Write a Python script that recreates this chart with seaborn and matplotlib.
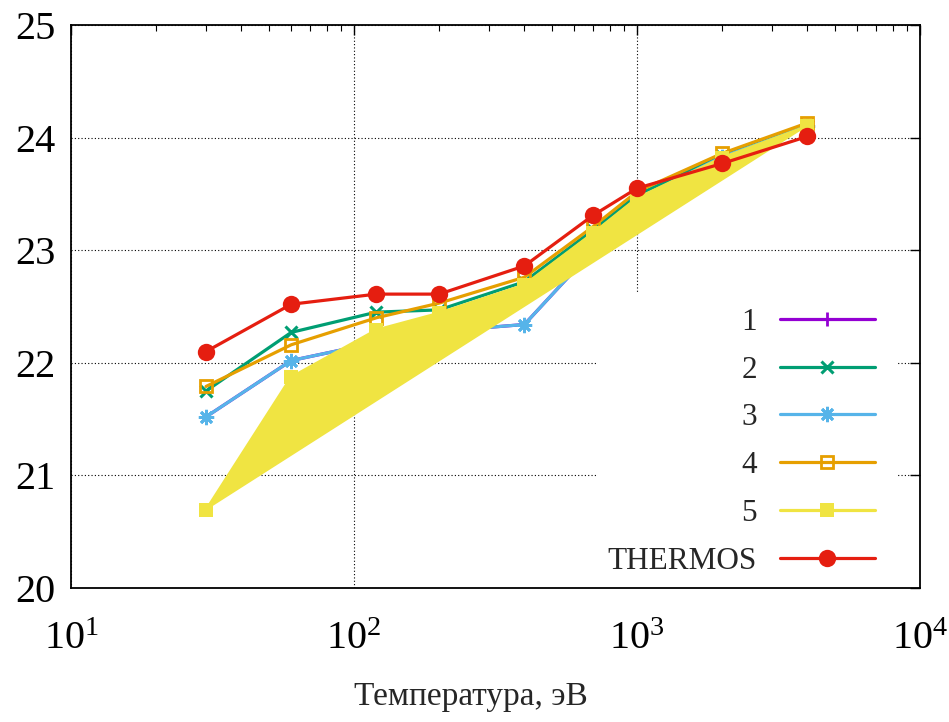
import matplotlib
matplotlib.use("Agg")
import matplotlib.pyplot as plt
import seaborn as sns
import numpy as np
import pandas as pd
from matplotlib.lines import Line2D
from matplotlib.patches import Rectangle
from matplotlib.ticker import LogLocator, LogFormatterMathtext, FixedLocator

# ---- data ----
temperature = [30, 60, 120, 200, 400, 700, 1000, 2000, 4000]
series_1 = [21.52, 22.02, 22.18, 22.28, 22.34, 23.00, 23.45, 23.83, 24.10]
series_2 = [21.75, 22.27, 22.45, 22.47, 22.72, 23.18, 23.49, 23.84, 24.10]
series_3 = [21.52, 22.02, 22.18, 22.28, 22.34, 23.00, 23.45, 23.83, 24.10]
series_4 = [21.79, 22.16, 22.40, 22.53, 22.76, 23.21, 23.52, 23.86, 24.13]
series_5 = [20.69, 21.87, 22.29, 22.44, 22.69, 23.15, 23.46, 23.82, 24.10]
thermos = [22.10, 22.52, 22.61, 22.61, 22.86, 23.31, 23.55, 23.77, 24.01]
labels = ["1", "2", "3", "4", "5", "THERMOS"]
y_ticks = [20, 21, 22, 23, 24, 25]
x_label = "Температура, эВ"

sns.set_style("white")
plt.rcParams["font.family"] = ["Liberation Serif", "DejaVu Serif"]
plt.rcParams["mathtext.fontset"] = "custom"
plt.rcParams["mathtext.rm"] = "Liberation Serif"
plt.rcParams["mathtext.it"] = "Liberation Serif:italic"
plt.rcParams["mathtext.bf"] = "Liberation Serif:bold"

fig = plt.figure(figsize=(9.49, 7.22), dpi=100)
ax = fig.add_axes([71 / 949, 1 - 588 / 722, (920 - 71) / 949, (588 - 25) / 722])

colors = ["#9400d3", "#009e73", "#56b4e9", "#e69f00", "#f0e442", "#e51e10"]
lw = 2.3

# polygon fill for series 5
ax.fill(temperature, series_5, color=colors[4], lw=0, zorder=2.5)

styles = [
    dict(marker="+", markersize=10, mew=2.0),
    dict(marker="x", markersize=8, mew=2.2),
    dict(marker=(8, 2, 0), markersize=11, mew=2.0),
    dict(marker="s", markersize=8.5, mew=2.0, markerfacecolor="none"),
    dict(marker="s", markersize=9.5, mew=0),
    dict(marker="o", markersize=12.5, mew=0),
]
all_series = [series_1, series_2, series_3, series_4, series_5, thermos]
zorders = [2, 2.1, 2.2, 2.3, 2.6, 3]
handles = []
for ys, c, st, lab, z in zip(all_series, colors, styles, labels, zorders):
    df = pd.DataFrame({"T": temperature, "v": ys})
    sns.lineplot(data=df, x="T", y="v", ax=ax, color=c, lw=lw, zorder=z,
                 markeredgecolor=c, legend=False, **st)
    handles.append(Line2D([], [], color=c, lw=lw, markeredgecolor=c, **st))

ax.set_xscale("log")
ax.set_xlim(10, 10000)
ax.set_ylim(20, 25)
ax.yaxis.set_major_locator(FixedLocator(y_ticks))
ax.set_yticklabels([str(v) for v in y_ticks])
ax.xaxis.set_major_locator(LogLocator(base=10, numticks=10))
ax.xaxis.set_minor_locator(LogLocator(base=10, subs=np.arange(2, 10), numticks=20))
ax.xaxis.set_major_formatter(LogFormatterMathtext())

ax.tick_params(axis="both", which="both", direction="in", top=True, right=True,
               labelsize=29, colors="black")
ax.tick_params(axis="both", which="major", length=7, width=1.0)
ax.tick_params(axis="x", which="minor", length=4, width=0.8)
ax.tick_params(axis="y", which="major", pad=11)
ax.tick_params(axis="x", which="major", pad=24)

ax.grid(True, which="major", color="black", linestyle=(0, (1, 2)), lw=0.8)
ax.set_axisbelow(True)
for s in ax.spines.values():
    s.set_color("black")
    s.set_linewidth(1.3)

ax.set_xlabel(x_label, fontsize=24)
ax.xaxis.set_label_coords((471 - 71) / 849, -(697 - 588) / 563)
ax.xaxis.label.set_va("center")
ax.set_ylabel("")

# white key area (hides grid like gnuplot opaque key)
ax.add_patch(Rectangle(((597 - 71) / 849, 0), (897 - 597) / 849, (588 - 292) / 563,
                       transform=ax.transAxes, facecolor="white", edgecolor="none",
                       zorder=1))

leg = ax.legend(handles=handles, labels=labels, loc="lower right",
                bbox_to_anchor=((875 - 71) / 849, 0.022), frameon=False,
                markerfirst=False, fontsize=22.5, handlelength=3.05,
                handletextpad=0.72, labelspacing=0.6, borderpad=0,
                borderaxespad=0)
leg.set_zorder(5)

fig.savefig("out.png", dpi=100)
